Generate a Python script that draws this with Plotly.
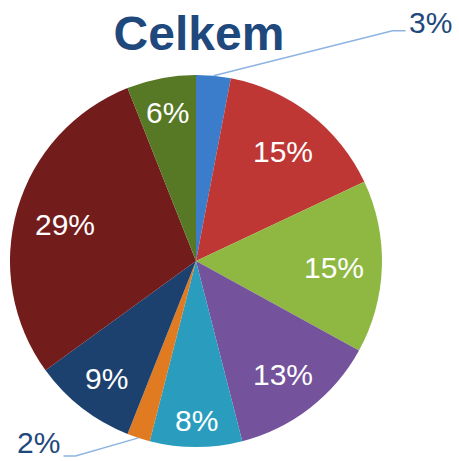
import math
import plotly.graph_objects as go

# Data (clockwise from 12 o'clock)
categories = ["A", "B", "C", "D", "E", "F", "G", "H", "I"]
values = [3, 15, 15, 13, 8, 2, 9, 29, 6]
labels_txt = ["3%", "15%", "15%", "13%", "8%", "2%", "9%", "29%", "6%"]
colors = ["#3B7CCB", "#BE3734", "#8FB843", "#74529C", "#2A9DBE",
          "#E07B22", "#1D416F", "#731C1C", "#577824"]
outside = [True, False, False, False, False, True, False, False, False]

W, H = 459, 461
cx_px, cy_px, r_px = 196, 261, 186
dom_x = [(cx_px - r_px) / W, (cx_px + r_px) / W]
dom_y = [(H - cy_px - r_px) / H, (H - cy_px + r_px) / H]

FONT = "Liberation Sans, Arial"
FS = 30

fig = go.Figure(go.Pie(
    labels=categories, values=values, textinfo="none",
    sort=False, direction="clockwise", rotation=0,
    marker=dict(colors=colors, line=dict(width=0)),
    domain=dict(x=dom_x, y=dom_y), showlegend=False, hoverinfo="skip",
))


def text_w(s, fs):
    return sum((0.889 if ch == "%" else 0.556) for ch in s) * fs


# outside-label layout: (elbow dx, elbow dy from edge, segment length, side, label dy)
leader = {0: (179, -45, 13, 1, -8), 5: (-63, 18, 12, -1, -13)}

total = sum(values)
cum = 0
annotations = []
shapes = []
for i, v in enumerate(values):
    mid = (cum + v / 2) / total * 2 * math.pi
    cum += v
    s, c = math.sin(mid), -math.cos(mid)   # pixel direction (y down)
    if not outside[i]:
        w, h = text_w(labels_txt[i], FS), 0.72 * FS
        rr = 0.905 * r_px - (abs(s) * w / 2 + abs(c) * h / 2)
        px, py = cx_px + rr * s, cy_px + rr * c + 2
        annotations.append(dict(
            x=px / W, y=1 - py / H, xref="paper", yref="paper",
            xanchor="center", yanchor="middle", showarrow=False,
            text=labels_txt[i], font=dict(family=FONT, size=FS, color="white")))
    else:
        ex, ey = cx_px + r_px * s, cy_px + r_px * c
        dx, dy, seg, side, ldy = leader[i]
        bx, by = ex + dx, ey + dy
        fx = bx + side * seg
        shapes.append(dict(
            type="path", xref="paper", yref="paper",
            path=f"M {ex/W} {1-ey/H} L {bx/W} {1-by/H} L {fx/W} {1-by/H}",
            line=dict(color="#8DB3E2", width=1.5)))
        w = text_w(labels_txt[i], FS)
        tx = fx + side * (3 + w / 2)
        ty = by + ldy
        annotations.append(dict(
            x=tx / W, y=1 - ty / H, xref="paper", yref="paper",
            xanchor="center", yanchor="middle", showarrow=False, borderpad=0,
            text=labels_txt[i], font=dict(family=FONT, size=FS, color="#1F497D")))

fig.update_layout(
    width=W, height=H, margin=dict(l=0, r=0, t=0, b=0),
    paper_bgcolor="white", plot_bgcolor="white",
    title=dict(text="<b>Celkem</b>", x=199 / W, xanchor="center",
               y=1 - 33 / H, yanchor="middle", yref="container",
               font=dict(family=FONT, size=48, color="#1F497D")),
    annotations=annotations, shapes=shapes,
)
fig.write_html("out.html", config={"displayModeBar": False},
               post_script="document.body.style.margin='0';")
